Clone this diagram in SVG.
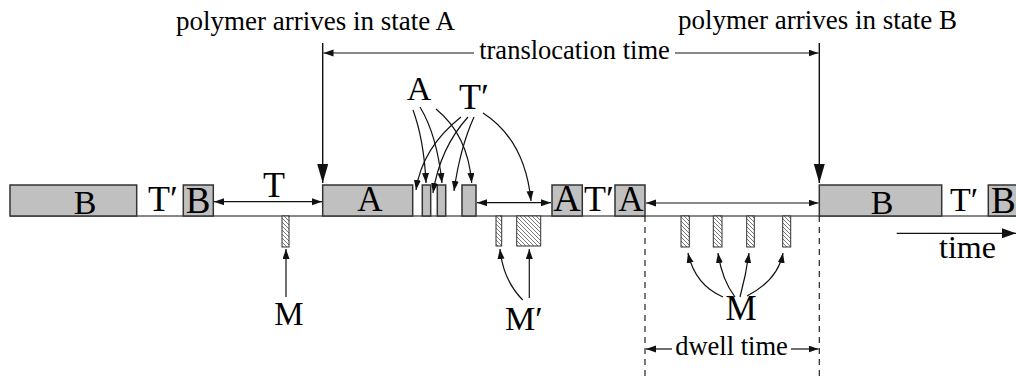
<svg xmlns="http://www.w3.org/2000/svg" width="1016" height="377" viewBox="0 0 1016 377">
<style>
text{font-family:"Liberation Serif","Times New Roman",serif;fill:#000}
.box{fill:#c0c0c0;stroke:#333;stroke-width:1.5}
.hat{fill:url(#hatch);stroke:#333;stroke-width:1}
.ln{fill:none;stroke:#111;stroke-width:1.2}
.arr{fill:none;stroke:#111;stroke-width:1.2;marker-end:url(#ah)}
.dbl{fill:none;stroke:#111;stroke-width:1.2;marker-start:url(#ah);marker-end:url(#ah)}
.big{fill:none;stroke:#111;stroke-width:1.4;marker-end:url(#bh)}
.dash{fill:none;stroke:#222;stroke-width:1.2;stroke-dasharray:6 5}
.lbl{font-size:36px;text-anchor:middle}
.cap{font-size:27px}
</style>
<defs>
<marker id="ah" markerUnits="userSpaceOnUse" markerWidth="11" markerHeight="8" refX="10" refY="3.5" orient="auto-start-reverse" viewBox="0 0 11 8">
<path d="M0,0 L10,3.5 L0,7 z" fill="#111"/>
</marker>
<marker id="mh" markerUnits="userSpaceOnUse" markerWidth="15" markerHeight="11" refX="14" refY="5" orient="auto" viewBox="0 0 15 11">
<path d="M0,0 L14,5 L0,10 z" fill="#111"/>
</marker>
<marker id="bh" markerUnits="userSpaceOnUse" markerWidth="20" markerHeight="12" refX="19" refY="5.5" orient="auto" viewBox="0 0 20 12">
<path d="M0,0 L19,5.5 L0,11 z" fill="#111"/>
</marker>
<pattern id="hatch" patternUnits="userSpaceOnUse" width="4" height="4">
<rect width="4" height="4" fill="#fff"/>
<path d="M0,0 L4,4 M-1,3 L1,5 M3,-1 L5,1" stroke="#555" stroke-width="0.8"/>
</pattern>
</defs>

<line class="ln" x1="10" y1="216" x2="1016" y2="216"/>

<g id="box-B1"><rect class="box" x="10" y="185" width="126.7" height="31"/><text x="85" y="213.5" style="font-size:34px;text-anchor:middle">B</text></g>
<g id="label-Tp1"><text x="148" y="211" style="font-size:36px">T′</text></g>
<g id="box-B2"><rect class="box" x="183.3" y="185" width="30" height="31"/><text x="198" y="212.5" style="font-size:37px;text-anchor:middle">B</text></g>
<g id="label-T"><text x="274" y="197" class="lbl">T</text></g>
<g id="box-A1"><rect class="box" x="322.7" y="185" width="90" height="31"/><text x="370" y="210.5" style="font-size:35px;text-anchor:middle">A</text></g>
<g id="box-s1"><rect class="box" x="422.3" y="185" width="8.4" height="31"/></g>
<g id="box-s2"><rect class="box" x="437.3" y="185" width="8.4" height="31"/></g>
<g id="box-s3"><rect class="box" x="462" y="185" width="14" height="31"/></g>
<g id="box-A2"><rect class="box" x="552" y="185" width="30.3" height="31"/><text x="567" y="211" style="font-size:38px;text-anchor:middle">A</text></g>
<g id="label-Tp2"><text x="584" y="211" style="font-size:36px">T′</text></g>
<g id="box-A3"><rect class="box" x="615" y="185" width="30" height="31"/><text x="631" y="210.5" style="font-size:35px;text-anchor:middle">A</text></g>
<g id="box-B3"><rect class="box" x="819.3" y="185" width="122.4" height="31"/><text x="882" y="214" style="font-size:34px;text-anchor:middle">B</text></g>
<g id="label-Tp3"><text x="950" y="211" style="font-size:34px">T′</text></g>
<g id="box-B4"><rect class="box" x="988.3" y="185" width="40" height="31"/><text x="991" y="213" style="font-size:37px">B</text></g>

<g id="hatch-M1"><rect class="hat" x="282" y="216" width="7" height="31"/></g>
<g id="hatch-Mp1"><rect class="hat" x="496" y="216" width="5.7" height="30"/></g>
<g id="hatch-Mp2"><rect class="hat" x="516.7" y="216" width="24" height="30"/></g>
<g id="hatch-M2"><rect class="hat" x="681" y="216" width="8.3" height="31"/></g>
<g id="hatch-M3"><rect class="hat" x="713.3" y="216" width="8.7" height="31"/></g>
<g id="hatch-M4"><rect class="hat" x="746.7" y="216" width="7.6" height="31"/></g>
<g id="hatch-M5"><rect class="hat" x="782.7" y="216" width="8" height="31"/></g>

<g id="label-arrivesA"><text x="176" y="30" class="cap">polymer arrives in state A</text></g>
<g id="label-arrivesB"><text x="678" y="29" class="cap">polymer arrives in state B</text></g>
<g id="label-transloc"><text x="574.5" y="59" style="font-size:26.5px;text-anchor:middle">translocation time</text></g>
<g id="label-A-top"><text x="419" y="100" style="font-size:34px;text-anchor:middle">A</text></g>
<g id="label-Tp-top"><text x="459" y="109" style="font-size:36px">T′</text></g>
<g id="label-M1"><text x="289" y="325" style="font-size:33px;text-anchor:middle">M</text></g>
<g id="label-Mp"><text x="505" y="330" style="font-size:34px">M′</text></g>
<g id="label-M2"><text x="741" y="320" style="font-size:35px;text-anchor:middle">M</text></g>
<g id="label-dwell"><text x="731.5" y="355" style="font-size:26.5px;text-anchor:middle">dwell time</text></g>
<g id="label-time"><text x="939" y="258" style="font-size:32px">time</text></g>

<g id="connectors">
<path class="big" d="M322.7,43 V183"/>
<path class="big" d="M819.3,43 V183"/>
<path class="arr" d="M474,53 H323.5"/>
<path class="arr" d="M675,53 H818.5"/>
<path class="dbl" d="M214,201.7 H322"/>
<path class="dbl" d="M477,202.7 H551"/>
<path class="dbl" d="M646,203 H818.5"/>
<path d="M896.7,233.3 H1016" fill="none" stroke="#111" stroke-width="1.3" marker-end="url(#mh)"/>
<path class="dash" d="M645,216 V377"/>
<path class="dash" d="M819.3,216 V377"/>
<path class="arr" d="M672,349 H646"/>
<path class="arr" d="M791,349 H818.5"/>
<path class="arr" d="M413,110 Q424,140 426,183"/>
<path class="arr" d="M420,107 Q437,135 442,183"/>
<path class="arr" d="M436,109 Q468,135 471.7,183"/>
<path class="arr" d="M461,117 Q422,148 416,190"/>
<path class="arr" d="M468,117 Q440,148 433,193"/>
<path class="arr" d="M474,117 Q460,148 454,191"/>
<path class="arr" d="M483,113 Q525,140 531,201"/>
<path class="arr" d="M286,297 V249"/>
<path class="arr" d="M522.7,300 Q503,280 500,249"/>
<path class="arr" d="M529.3,298 V249"/>
<path class="arr" d="M723,297 Q695,285 688,253"/>
<path class="arr" d="M735,297 Q722,280 718,253"/>
<path class="arr" d="M740,297 Q746,275 749,253"/>
<path class="arr" d="M747,296 Q778,280 783,253"/>
</g>
</svg>
